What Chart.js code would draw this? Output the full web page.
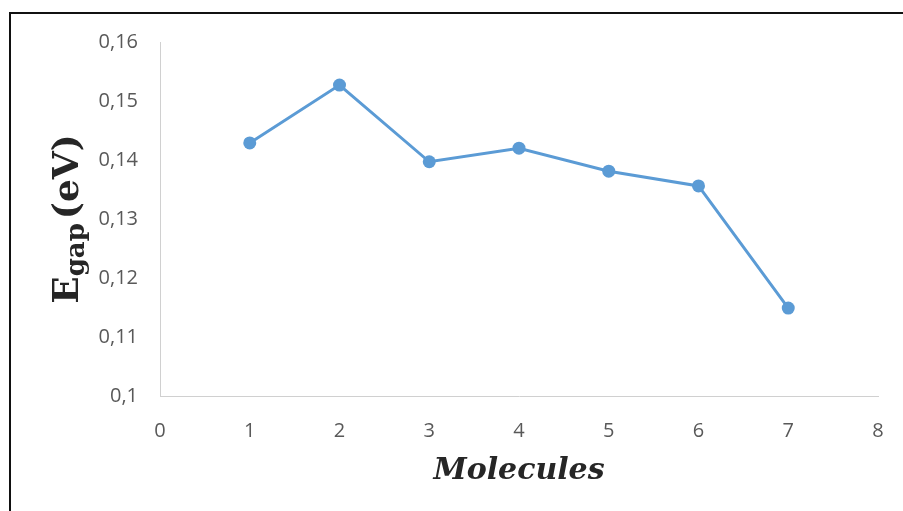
<!DOCTYPE html>
<html>
<head>
<meta charset="utf-8">
<script src="https://cdn.jsdelivr.net/npm/chart.js@4"></script>
<style>
  html, body { margin: 0; padding: 0; background: #fff; }
  #wrap { position: relative; width: 903px; height: 511px; }
  #frame { position: absolute; left: 9px; top: 12px; right: 0; bottom: 0;
           border-top: 2px solid #111; border-left: 2px solid #111; pointer-events: none; }
</style>
</head>
<body>
<div id="wrap">
  <canvas id="egapChart" width="903" height="511"></canvas>
  <div id="frame"></div>
</div>
<script>
// Data
const molecules = [1, 2, 3, 4, 5, 6, 7];
const egapValues = [0.1429, 0.1527, 0.1397, 0.1420, 0.1381, 0.1356, 0.1149];
const xTicks = [0, 1, 2, 3, 4, 5, 6, 7, 8];
const yTicks = [0.10, 0.11, 0.12, 0.13, 0.14, 0.15, 0.16];

const tickFont = { family: "'Open Sans', sans-serif", size: 20 };
const tickColor = "#595959";
const axisColor = "#d0d0d0";

// y-axis title with subscript, drawn rotated
const yTitlePlugin = {
  id: "yTitle",
  afterDraw(chart) {
    const ctx = chart.ctx;
    const big = "bold 36px 'DejaVu Serif', serif";
    const small = "bold 26px 'DejaVu Serif', serif";
    const gapSpace = 4;
    ctx.save();
    ctx.font = big;
    const wE = ctx.measureText("E").width;
    const wRest = ctx.measureText("(eV)").width;
    ctx.font = small;
    const wSub = ctx.measureText("gap").width;
    const total = wE + wSub + gapSpace + wRest;
    ctx.translate(78, 219);
    ctx.rotate(-Math.PI / 2);
    ctx.fillStyle = "#262626";
    ctx.textBaseline = "alphabetic";
    ctx.textAlign = "left";
    let x = -total / 2;
    ctx.font = big;
    ctx.fillText("E", x, 0);
    x += wE;
    ctx.font = small;
    ctx.fillText("gap", x, 6);
    x += wSub + gapSpace;
    ctx.font = big;
    ctx.fillText("(eV)", x, 0);
    ctx.restore();
  }
};

new Chart(document.getElementById("egapChart"), {
  type: "line",
  data: {
    datasets: [{
      data: molecules.map((m, i) => ({ x: m, y: egapValues[i] })),
      borderColor: "#5b9bd5",
      backgroundColor: "#5b9bd5",
      borderWidth: 3,
      pointRadius: 6.5,
      pointBorderWidth: 0,
      tension: 0
    }]
  },
  options: {
    responsive: false,
    animation: false,
    layout: { padding: { top: 42, right: 25, bottom: 0, left: 0 } },
    plugins: { legend: { display: false }, tooltip: { enabled: false } },
    scales: {
      x: {
        type: "linear",
        min: 0,
        max: 8,
        afterBuildTicks: s => { s.ticks = xTicks.map(v => ({ value: v })); },
        afterFit: s => { s.height = 115; s.paddingLeft = 0; s.paddingRight = 0; },
        grid: { display: false, drawTicks: false },
        border: { display: true, color: axisColor, width: 1 },
        ticks: { color: tickColor, font: tickFont, padding: 23 },
        title: {
          display: true,
          text: "Molecules",
          color: "#262626",
          font: { family: "'DejaVu Serif', serif", size: 30, weight: "bold", style: "italic" },
          padding: { top: 4, bottom: 22 }
        }
      },
      y: {
        min: 0.10,
        max: 0.16,
        afterBuildTicks: s => { s.ticks = yTicks.map(v => ({ value: v })); },
        afterFit: s => { s.width = 160; },
        grid: { display: false, drawTicks: false },
        border: { display: true, color: axisColor, width: 1 },
        ticks: {
          color: tickColor,
          font: tickFont,
          padding: 22,
          callback: v => String(Math.round(v * 100) / 100).replace(".", ",")
        }
      }
    }
  },
  plugins: [yTitlePlugin]
});
</script>
</body>
</html>
